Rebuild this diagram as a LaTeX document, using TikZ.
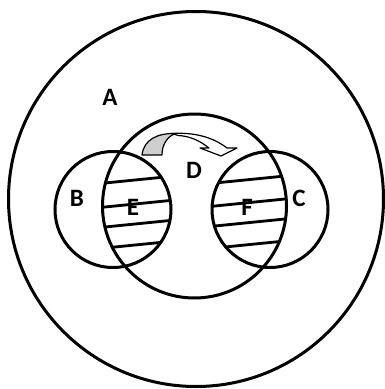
\documentclass[tikz,border=0pt]{standalone}
\usepackage{fontspec}
\setmainfont{Carlito}
\usetikzlibrary{positioning}
\definecolor{VNInk}{HTML}{000000}
\definecolor{VNShade}{HTML}{CFCFCF}
\tikzset{
  setring/.style={draw=VNInk,line width=3pt},
  hatch/.style={draw=VNInk,line width=2.8pt},
  setlabel/.style={text=VNInk,font=\fontsize{25}{29}\selectfont\bfseries,inner sep=0pt},
  bendarrow/.style={draw=VNInk,line width=1.2pt,line join=round},
}

\begin{document}
\begin{tikzpicture}[x=1pt,y=-1pt]
    \useasboundingbox (0,0) rectangle (385,389);

    % hatching inside the two overlaps
    \begin{scope}
      \clip (113,209.5) circle[radius=58];
      \clip (194.5,206) circle[radius=92];
      \foreach \y in {180,204,224,245}
        \draw[hatch] (85,\y+5) -- (185,\y-5);
    \end{scope}
    \begin{scope}
      \clip (270,209.5) circle[radius=58];
      \clip (194.5,206) circle[radius=92];
      \foreach \y in {180,203,223,245}
        \draw[hatch] (195,\y+5) -- (295,\y-5);
    \end{scope}

    % sets
    \draw[setring] (196,199) coordinate (A0) circle[radius=187.5];
    \draw[setring] (194.5,206) coordinate (D0) circle[radius=92];
    \draw[setring] (113,209.5) coordinate (B0) circle[radius=58];
    \draw[setring] (270,209.5) coordinate (C0) circle[radius=58];

    % curved block arrow
    \filldraw[bendarrow,fill=white] (172,133.5) .. controls (196,132) and (214,138) .. (227,148)
      -- (237,148) -- (221,156) -- (200,148) -- (209,148)
      .. controls (199,140) and (189,136) .. (178,135.5) -- cycle;
    \filldraw[bendarrow,fill=VNShade] (142,155) .. controls (144,139) and (158,133) .. (176,133.5)
      .. controls (167,136) and (162,145) .. (162,155) -- cycle;

    % labels
    \node[setlabel] (labA) at (110,97) {A};
    \node[setlabel] (labB) at (77,198) {B};
    \node[setlabel] (labE) at (133,207) {E};
    \node[setlabel] (labD) at (194,170) {D};
    \node[setlabel] (labF) at (247,207) {F};
    \node[setlabel] (labC) at (299,198) {C};
\end{tikzpicture}
\end{document}
